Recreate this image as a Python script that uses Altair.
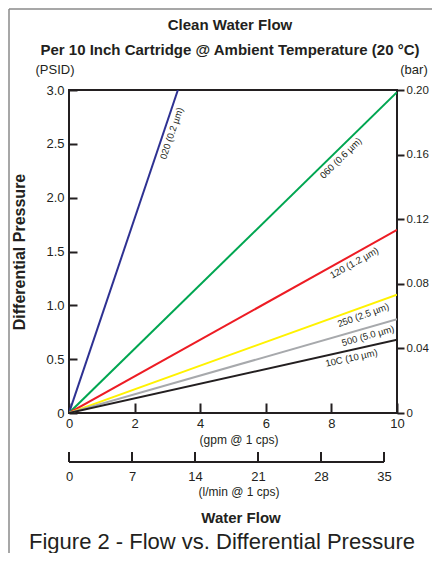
import math
import altair as alt
import pandas as pd

# ---------------- data ----------------
series = ["020 (0.2 µm)", "060 (0.6 µm)", "120 (1.2 µm)",
          "250 (2.5 µm)", "500 (5.0 µm)", "10C (10 µm)"]
colors = ["#2e3192", "#00a651", "#ed1c24", "#fff200", "#a7a9ac", "#231f20"]
end_gpm = [3.32, 10, 10, 10, 10, 10]          # flow at end of each line (gpm)
end_psid = [3.0, 2.98, 1.70, 1.10, 0.87, 0.68]  # pressure at end of each line
label_gpm = [2.90, 8.12, 8.58, 8.89, 9.05, 8.56]  # where the label sits along line

gpm_ticks = [0, 2, 4, 6, 8, 10]
psid_ticks = [0, 0.5, 1.0, 1.5, 2.0, 2.5, 3.0]
bar_ticks = [0, 0.04, 0.08, 0.12, 0.16, 0.20]
lmin_ticks = [0, 7, 14, 21, 28, 35]

# ---------------- layout / style ----------------
W, H = 328, 323
FONT = "Liberation Sans, Arial, Helvetica, sans-serif"
INK = "#231f20"

rows = []
for s, gx, py in zip(series, end_gpm, end_psid):
    rows.append({"series": s, "gpm": 0.0, "psid": 0.0, "o": 0})
    rows.append({"series": s, "gpm": gx, "psid": py, "o": 1})
lines_df = pd.DataFrame(rows)

lab_rows = []
for s, gx, py, lx in zip(series, end_gpm, end_psid, label_gpm):
    slope = py / gx
    ang = math.degrees(math.atan(slope * (H / 3.0) / (W / 10.0)))
    lab_rows.append({"series": s, "gpm": lx, "psid": slope * lx, "angle": 360 - ang})
labels_df = pd.DataFrame(lab_rows)

x_scale = alt.Scale(domain=[0, 10], nice=False)
y_scale = alt.Scale(domain=[0, 3], nice=False)
color_scale = alt.Scale(domain=series, range=colors)

common_axis = dict(labelFont=FONT, labelColor=INK,
                   labelFlush=False, labelOverlap=False, grid=False,
                   title=None, tickColor=INK, tickWidth=2)

x_axis = alt.Axis(orient="bottom", values=gpm_ticks, offset=-10, tickSize=10,
                  domain=False, labelPadding=4, labelFontSize=13, **common_axis)
y_axis = alt.Axis(orient="left", values=psid_ticks, offset=-8, tickSize=8,
                  domain=False, labelPadding=5, labelFontSize=13,
                  labelExpr="datum.value == 0 ? '0' : format(datum.value, '.1f')",
                  **common_axis)

lines = alt.Chart(lines_df).mark_line(strokeWidth=2, clip=True).encode(
    x=alt.X("gpm:Q", scale=x_scale, axis=x_axis),
    y=alt.Y("psid:Q", scale=y_scale, axis=y_axis),
    color=alt.Color("series:N", scale=color_scale, legend=None),
    order="o:Q",
)

labels = alt.Chart(labels_df).mark_text(
    font=FONT, fontSize=9.5, color=INK, align="center", baseline="top", dy=3
).encode(
    x=alt.X("gpm:Q", scale=x_scale, axis=x_axis),
    y=alt.Y("psid:Q", scale=y_scale, axis=y_axis),
    text="series:N",
    angle=alt.Angle("angle:Q", scale=None),
)


def note(text, x, y, size, bold=False, angle=0):
    return alt.Chart(pd.DataFrame({"t": [text]})).mark_text(
        font=FONT, fontSize=size, fontWeight="bold" if bold else "normal",
        color=INK, align="center", baseline="middle", angle=angle
    ).encode(x=alt.value(x), y=alt.value(y), text="t:N")


notes = [
    note("Clean Water Flow", 161, -65, 15, bold=True),
    note("Per 10 Inch Cartridge @ Ambient Temperature (20 °C)", 161, -40, 15, bold=True),
    note("(PSID)", -14, -20, 13),
    note("(bar)", 345, -20, 13),
    note("Differential Pressure", -49, 162, 16, bold=True, angle=270),
    note("(gpm @ 1 cps)", 170, 350, 12),
    note("(l/min @ 1 cps)", 170, 402, 12),
    note("Water Flow", 172, 428, 15, bold=True),
    note("Figure 2 - Flow vs. Differential Pressure", 153, 452, 22),
]

one = pd.DataFrame({"a": [0]})
frame_v = alt.Chart(one).mark_rule(color="#8a8a8a", strokeWidth=1.5).encode(
    x=alt.value(-60), y=alt.value(-81), y2=alt.value(H + 140))
frame_h = alt.Chart(one).mark_rule(color="#8a8a8a", strokeWidth=1.5).encode(
    x=alt.value(-60), x2=alt.value(W + 35), y=alt.value(-81))

main = alt.layer(lines, labels, *notes, frame_v, frame_h)

# right-hand bar axis
bar_layer = alt.Chart(pd.DataFrame({"bar": bar_ticks})).mark_point(opacity=0).encode(
    y=alt.Y("bar:Q", scale=alt.Scale(domain=[0, 0.2], nice=False),
            axis=alt.Axis(orient="right", values=bar_ticks, tickSize=7,
                          domain=False, labelPadding=2, labelFontSize=11.5,
                          labelExpr="datum.value == 0 ? '0' : format(datum.value, '.2f')",
                          **common_axis))
)

# second bottom axis (l/min)
lmin_scale = alt.Scale(domain=[0, 35], range=[0, 315], nice=False)
lmin_axis = alt.Axis(orient="bottom", values=lmin_ticks, offset=49, ticks=False,
                     domain=False, labelPadding=8, labelFontSize=13, **common_axis)
lmin_ticks_layer = alt.Chart(pd.DataFrame({"lmin": lmin_ticks})).mark_rule(
    color=INK, strokeWidth=2).encode(
    x=alt.X("lmin:Q", scale=lmin_scale, axis=lmin_axis),
    y=alt.value(H + 39), y2=alt.value(H + 49))
lmin_base = alt.Chart(one).mark_rule(color=INK, strokeWidth=2).encode(
    x=alt.XDatum(min(lmin_ticks), scale=lmin_scale, axis=lmin_axis),
    x2=alt.X2Datum(max(lmin_ticks)),
    y=alt.value(H + 49))
lmin_layer = alt.layer(lmin_ticks_layer, lmin_base)

chart = alt.layer(main, bar_layer, lmin_layer).resolve_scale(
    x="independent", y="independent"
).properties(
    width=W, height=H,
    autosize=alt.AutoSizeParams(type="none"),
    padding={"left": 61, "top": 82, "right": 35, "bottom": 140},
    background="white",
).configure_view(stroke=INK, strokeWidth=2)

chart.save("out.html", embed_options={"renderer": "svg", "actions": False})
